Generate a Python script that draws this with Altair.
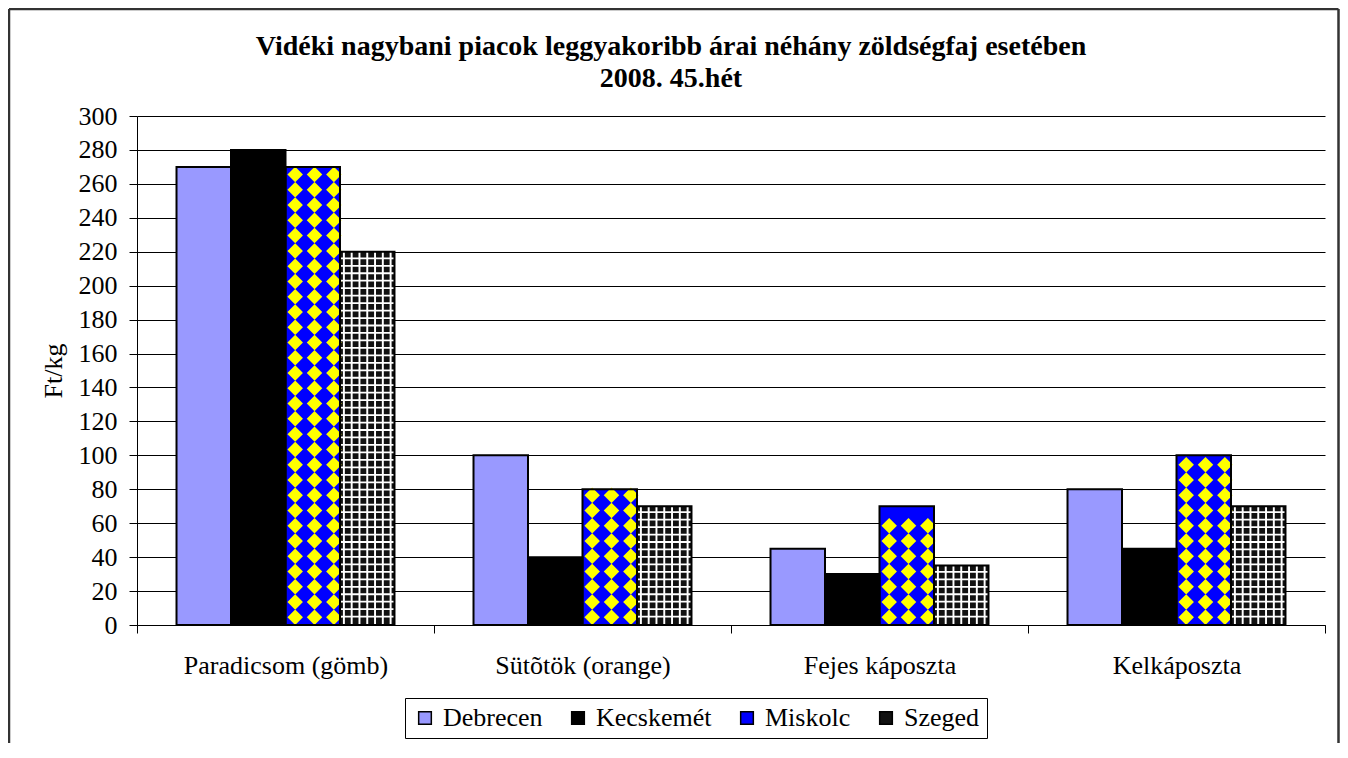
import altair as alt
import pandas as pd

# ---- data ----
categories = ["Paradicsom (gömb)", "Sütõtök (orange)", "Fejes káposzta", "Kelkáposzta"]
markets = ["Debrecen", "Kecskemét", "Miskolc", "Szeged"]
debrecen = [270, 100, 45, 80]
kecskemet = [280, 40, 30, 45]
miskolc = [270, 80, 70, 100]
szeged = [220, 70, 35, 70]
y_ticks = list(range(0, 301, 20))
title_lines = ["Vidéki nagybani piacok leggyakoribb árai néhány zöldségfaj esetében",
               "2008. 45.hét"]
y_title = "Ft/kg"

fills = ["#9999FF", "#000000", "#0000FF", "#111111"]

rows = []
for m, vals in zip(markets, [debrecen, kecskemet, miskolc, szeged]):
    for c, v in zip(categories, vals):
        rows.append({"cat": c, "market": m, "value": v})
df = pd.DataFrame(rows)

W, H = 1188, 509
FONT = "Liberation Serif"
FS = 26

# category bands touch (ticks sit between categories); the gap comes from the offset scales
x_scale = alt.Scale(paddingInner=0, paddingOuter=0)
y_scale = alt.Scale(domain=[0, 300], nice=False, zero=True)

x_axis = alt.Axis(labelAngle=0, tickBand="extent", tickSize=8, labelPadding=19,
                  labelLimit=600, domainColor="black", tickColor="black",
                  labelFontSize=FS, labelFont=FONT, labelColor="black", grid=False,
                  title=None)
y_axis = alt.Axis(values=y_ticks, title=y_title, grid=True, gridColor="black",
                  gridWidth=1, gridOpacity=1, domainColor="black", tickColor="black",
                  tickSize=8, labelPadding=12, labelFont=FONT, labelFontSize=FS,
                  labelColor="black", titleFont=FONT, titleFontSize=FS,
                  titleFontWeight="normal", titleColor="black", titlePadding=12)

def xenc():
    return alt.X("cat:N", sort=categories, scale=x_scale, axis=x_axis)

def yenc(field):
    return alt.Y(field, scale=y_scale, axis=y_axis)

main_off = alt.XOffset("market:N", sort=markets,
                       scale=alt.Scale(domain=markets, paddingInner=0,
                                       paddingOuter=0.725))

base = alt.Chart(df)

bars = base.mark_bar(strokeWidth=0).encode(
    x=xenc(),
    xOffset=main_off,
    y=yenc("value:Q"),
    fill=alt.Fill("market:N", sort=markets,
                  scale=alt.Scale(domain=markets, range=fills),
                  legend=alt.Legend(title=None, orient="none", direction="horizontal",
                                    legendX=268, legendY=582, symbolType="square",
                                    symbolSize=160, symbolStrokeColor="black",
                                    symbolStrokeWidth=1.5, labelFont=FONT,
                                    labelFontSize=FS, labelColor="black",
                                    labelOffset=5, columnPadding=22, padding=7,
                                    strokeColor="black", fillColor="white")),
)

# Miskolc pattern: yellow diamonds on blue (3 sub-columns per bar, 2 spacer slots each side)
dia_domain = (["pad_l0", "pad_l1"] + [f"{m}|{j}" for m in markets for j in range(3)]
              + ["pad_r0", "pad_r1"])
diamonds = base.transform_filter(alt.datum.market == "Miskolc").transform_calculate(
    ys="sequence(4.5, datum.value - 3, 9)", col="sequence(0, 3)"
).transform_flatten(["ys"]).transform_flatten(["col"]).transform_calculate(
    sub="datum.market + '|' + datum.col"
).mark_point(shape="diamond", filled=True, color="#FFFF00", size=240, opacity=1,
             strokeWidth=0).encode(
    x=xenc(),
    xOffset=alt.XOffset("sub:N", scale=alt.Scale(domain=dia_domain, paddingInner=0,
                                                   paddingOuter=0.174)),
    y=yenc("ys:Q"),
)

# Szeged pattern: white grid on black (7 strips per bar, 5 spacer slots each side)
vs_domain = ([f"pad_l{i}" for i in range(5)]
             + [f"{m}|{j}" for m in markets for j in range(7)]
             + [f"pad_r{i}" for i in range(5)])
sz_v = base.transform_filter(alt.datum.market == "Szeged").transform_calculate(
    col="sequence(0, 7)"
).transform_flatten(["col"]).transform_calculate(
    sub="datum.market + '|' + datum.col"
).mark_rect(color="white").encode(
    x=xenc(),
    xOffset=alt.XOffset("sub:N", scale=alt.Scale(domain=vs_domain, paddingInner=0.75,
                                                   paddingOuter=0.448)),
    y=yenc("value:Q"),
    y2=alt.datum(0),
)

sz_h = base.transform_filter(alt.datum.market == "Szeged").transform_calculate(
    ys="sequence(4.4, datum.value, 4.4)"
).transform_flatten(["ys"]).transform_calculate(
    ys2="datum.ys + 1.05"
).mark_rect(color="white").encode(
    x=xenc(),
    xOffset=main_off,
    y=yenc("ys:Q"),
    y2=alt.Y2("ys2:Q"),
)

outline = base.mark_bar(fillOpacity=0, stroke="black", strokeWidth=2).encode(
    x=xenc(),
    xOffset=main_off,
    y=yenc("value:Q"),
)

# chart-area frame (left, top, right edges; the bottom lies below the page)
one = pd.DataFrame([{"k": 0}])
frame_style = dict(color="#333333", strokeWidth=2.5)
frame_left = alt.Chart(one).mark_rule(**frame_style).encode(
    x=alt.value(-128), y=alt.value(-107), y2=alt.value(700))
frame_top = alt.Chart(one).mark_rule(**frame_style).encode(
    x=alt.value(-128), x2=alt.value(1201.5), y=alt.value(-107))
frame_right = alt.Chart(one).mark_rule(**frame_style).encode(
    x=alt.value(1201.5), y=alt.value(-107), y2=alt.value(700))

chart = alt.layer(bars, diamonds, sz_v, sz_h, outline,
                  frame_left, frame_top, frame_right).resolve_scale(
    xOffset="independent"
).properties(
    width=W, height=H,
    title=alt.TitleParams(text=title_lines, font=FONT, fontSize=28, fontWeight="bold",
                          color="black", anchor="middle", lineHeight=32, dx=-60,
                          offset=-85),
    autosize=alt.AutoSizeParams(type="none"),
    padding={"left": 129, "top": 108, "right": 15, "bottom": 118},
    background="white",
).configure_view(stroke=None)

chart.save("out.html", embed_options={"renderer": "svg", "actions": False})
